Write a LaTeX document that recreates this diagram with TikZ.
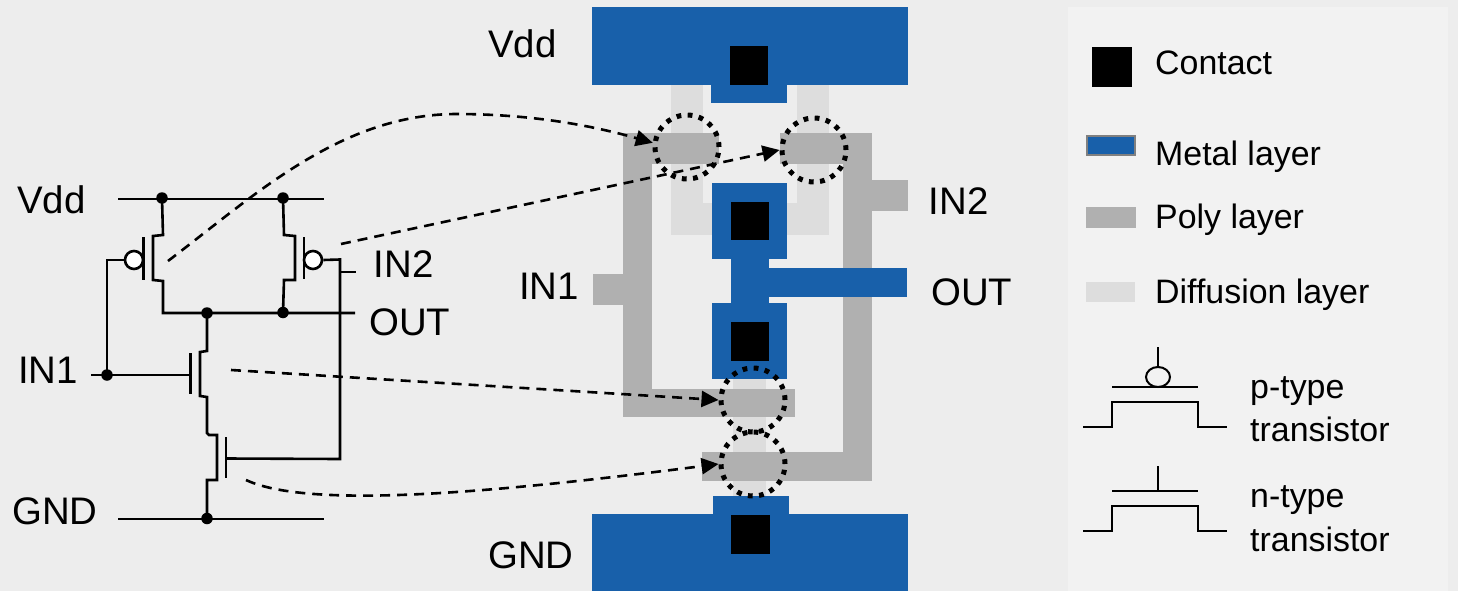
\documentclass[tikz,border=0pt]{standalone}
\usepackage{fontspec}
\setmainfont{Liberation Sans}
\usetikzlibrary{arrows.meta,calc}
\definecolor{bgcol}{HTML}{EDEDED}
\definecolor{panelcol}{HTML}{F2F2F2}
\definecolor{metalcol}{HTML}{1860AA}
\definecolor{polycol}{HTML}{B0B0B0}
\definecolor{diffcol}{HTML}{DDDDDD}
\tikzset{
  wire/.style={line width=2.6pt},
  thinwire/.style={line width=2pt},
  junction/.style={circle, fill=black, minimum width=11.5pt, inner sep=0pt},
  bubble/.style={circle, draw, line width=2.6pt, fill=white, minimum width=18pt, inner sep=0pt},
  gatecircle/.style={circle, draw, line width=5pt, dash pattern=on 4.8pt off 6.4pt, minimum width=64pt, inner sep=0pt},
  maplink/.style={line width=2.6pt, dash pattern=on 10pt off 7pt, -{Triangle[length=17pt,width=16pt]}},
  biglabel/.style={anchor=base west, inner sep=0pt, font=\fontsize{38.4}{40}\selectfont},
  keylabel/.style={anchor=base west, inner sep=0pt, font=\fontsize{33.9}{36}\selectfont},
}
\begin{document}
\begin{tikzpicture}[x=1pt,y=-1pt]
\useasboundingbox (0,0) rectangle (1458,591);
\fill[bgcol] (0,0) rectangle (1458,591);
\fill[panelcol] (1068,7) rectangle (1448,591);
\fill[diffcol] (671,85) rectangle (703,235);
\fill[diffcol] (703,203) rectangle (712,235);
\fill[diffcol] (797,85) rectangle (829,235);
\fill[diffcol] (787,203) rectangle (797,235);
\fill[diffcol] (733,379) rectangle (766,496);
\fill[polycol] (623,133) rectangle (652,417);
\fill[polycol] (623,133) rectangle (719,164);
\fill[polycol] (593,274) rectangle (623,305);
\fill[polycol] (623,389) rectangle (795,417);
\fill[polycol] (780,133) rectangle (872,164);
\fill[polycol] (843,133) rectangle (872,481);
\fill[polycol] (843,180) rectangle (908,211);
\fill[polycol] (702,452) rectangle (872,481);
\fill[metalcol] (592,7) rectangle (908,85);
\fill[metalcol] (711,85) rectangle (787,103);
\fill[metalcol] (712,183) rectangle (787,259);
\fill[metalcol] (731,259) rectangle (769,303);
\fill[metalcol] (769,268) rectangle (907,297);
\fill[metalcol] (712,303) rectangle (787,379);
\fill[metalcol] (713,496) rectangle (789,514);
\fill[metalcol] (592,514) rectangle (908,591);
\fill[black] (730,46) rectangle (768,85);
\fill[black] (731,202) rectangle (769,240);
\fill[black] (731,322) rectangle (769,361);
\fill[black] (731,515) rectangle (770,554);
\node[gatecircle] (g1) at (687,147){};
\node[gatecircle] (g2) at (814,150){};
\node[gatecircle] (g3) at (753,400){};
\node[gatecircle] (g4) at (753,464){};
\coordinate (vddl) at (118,199);
\coordinate (vddr) at (324,199);
\coordinate (gndl) at (118,519);
\coordinate (gndr) at (324,519);
\coordinate (outr) at (355,313);
\coordinate (inleft) at (91,375);
\coordinate (ingate) at (190.5,375);
\coordinate (in2stub) at (356,272);
\coordinate (corner) at (340,459);
\node[junction] (v1) at (162,198){};
\node[junction] (v2) at (283,198){};
\node[junction] (o1) at (207,313){};
\node[junction] (o2) at (283,312.5){};
\node[junction] (i1) at (107,375){};
\node[junction] (g0) at (207,518.5){};
\node[bubble] (b1) at (134,260){};
\node[bubble] (b2) at (313,260){};
\draw[wire] (vddl) -- (vddr);
\draw[wire] (gndl) -- (gndr);
\draw[wire] (v1.center) -- (163,235) -- (153,236) -- (153,280) -- (163,281) -- (163,313) -- (outr);
\draw[wire] (v2.center) -- (284,235) -- (295,236) -- (295,280) -- (284,280) -- (o2.center);
\draw[wire] (143.5,237) -- (143.5,280);
\draw[wire] (304,237) -- (304,279);
\draw[wire] (b1.west) -- (107,260) -- (i1.center);
\draw[wire] (inleft) -- (ingate);
\draw[wire] (190.5,353) -- (190.5,394);
\draw[wire] (o1.center) -- (207,351) -- (200,352) -- (200,396) -- (207,397) -- (207,433) -- (209,435) -- (217,435) -- (217,480) -- (207,480) -- (g0.center);
\draw[wire] (226,437) -- (226,478);
\draw[wire] (226,458.5) -- (corner) -- (340,259.5) -- (b2.east);
\draw[wire] (340,272) -- (in2stub);
\draw[maplink] (168,261) .. controls (255,195) and (340,115) .. (455,114) .. controls (530,114) and (590,125) .. (g1.173);
\draw[maplink] (341,244) -- (g2.west);
\draw[maplink] (231,370) -- (g3.west);
\draw[maplink] (246,480) .. controls (310,510) and (500,492) .. (g4.west);
\node[biglabel] (vddlab) at (17,213){Vdd};
\node[biglabel] (in2lab) at (373.5,277){IN2};
\node[biglabel] (outlab) at (369,335){OUT};
\node[biglabel] (in1lab) at (18,383){IN1};
\node[biglabel] (gndlab) at (12,524){GND};
\node[biglabel] (vddtop) at (488,58){Vdd};
\node[biglabel] (gndbot) at (488,568){GND};
\node[biglabel] (in1mid) at (519,299){IN1};
\node[biglabel] (in2mid) at (928.5,214){IN2};
\node[biglabel] (outmid) at (931,305){OUT};
\fill[black] (1092,47) rectangle (1132,87);
\draw[fill=metalcol, draw=gray, line width=2pt] (1087,136) rectangle (1135,155);
\fill[polycol] (1086,207) rectangle (1136,228);
\fill[diffcol] (1086,282) rectangle (1135,302);
\node[keylabel] (k1) at (1155,75){Contact};
\node[keylabel] (k2) at (1155,165){Metal layer};
\node[keylabel] (k3) at (1155,228){Poly layer};
\node[keylabel] (k4) at (1155,303){Diffusion layer};
\node[keylabel] (k5) at (1250,398){p-type};
\node[keylabel] (k6) at (1250,441){transistor};
\node[keylabel] (k7) at (1250,507){n-type};
\node[keylabel] (k8) at (1250,551){transistor};
\draw[thinwire] (1158,347) -- (1158,367);
\draw[thinwire] (1158,377) ellipse (12 and 10);
\draw[thinwire] (1112,387) -- (1198,387);
\draw[thinwire] (1083,427) -- (1112,427) -- (1112,401.5) -- (1198,401.5) -- (1198,427) -- (1227,427);
\draw[thinwire] (1158,466) -- (1158,491);
\draw[thinwire] (1112,491) -- (1198,491);
\draw[thinwire] (1083,531) -- (1112,531) -- (1112,506) -- (1198,506) -- (1198,531) -- (1227,531);
\end{tikzpicture}
\end{document}
